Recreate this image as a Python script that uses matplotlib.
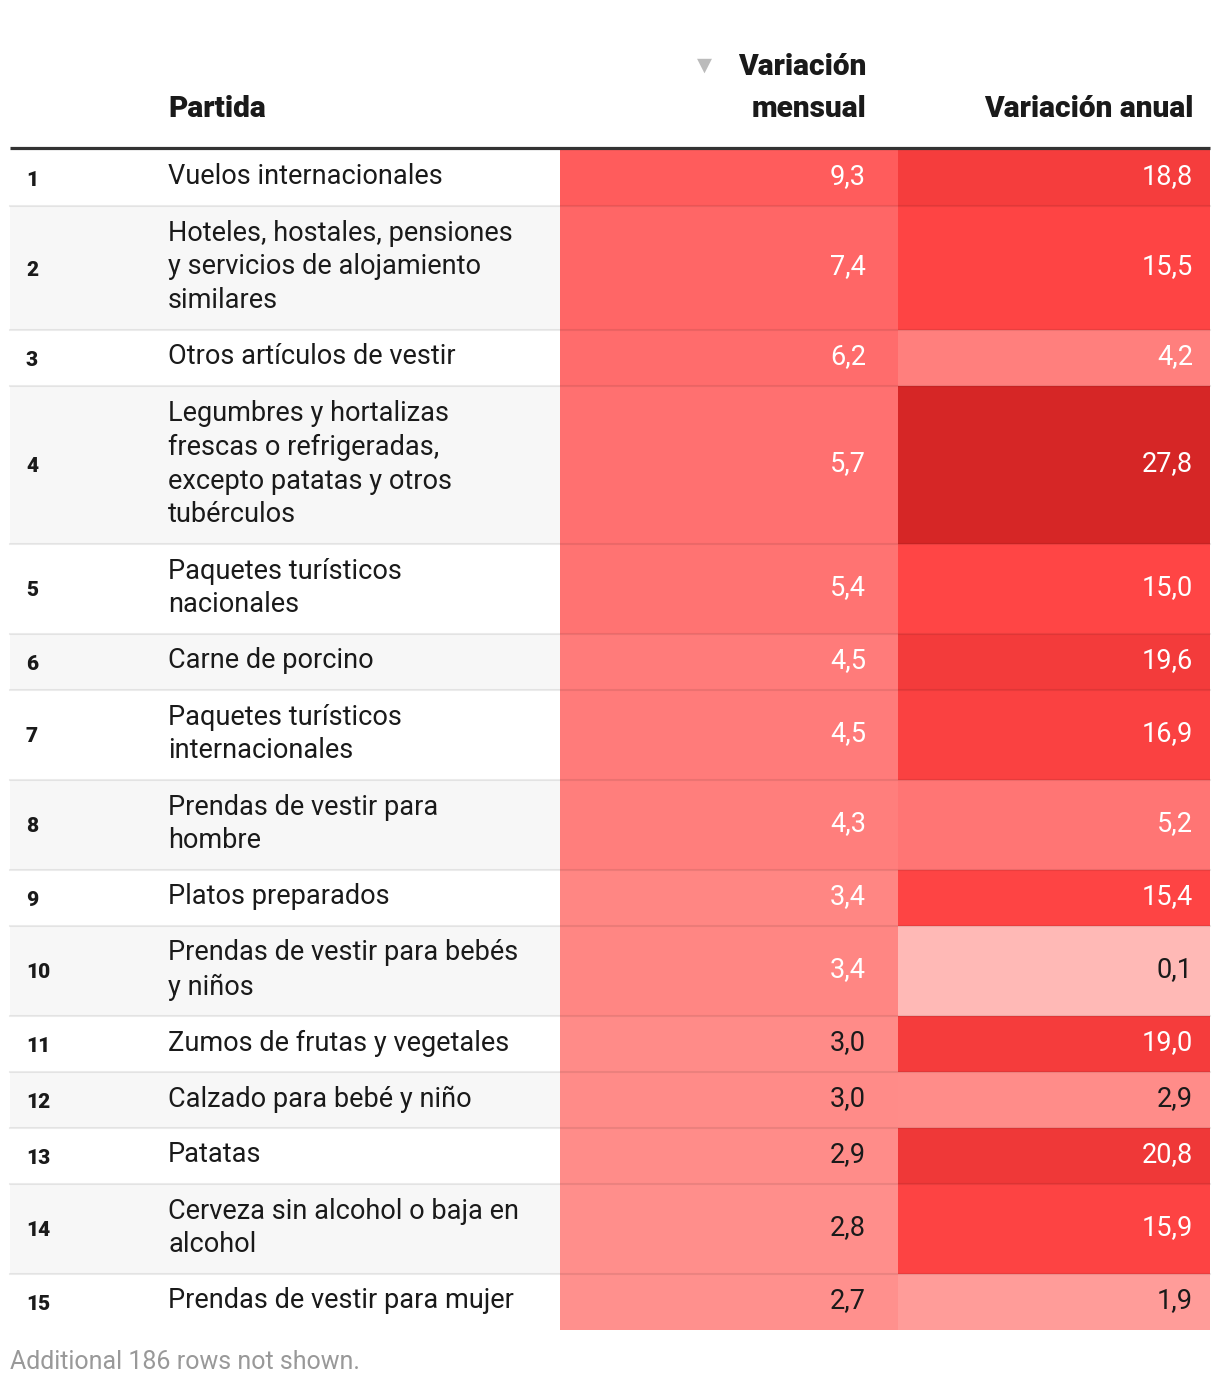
import numpy as np
import matplotlib.pyplot as plt
from matplotlib.colors import LinearSegmentedColormap, Normalize

# data
ranks = list(range(1, 16))
partidas = [
    "Vuelos internacionales",
    "Hoteles, hostales, pensiones\ny servicios de alojamiento\nsimilares",
    "Otros artículos de vestir",
    "Legumbres y hortalizas\nfrescas o refrigeradas,\nexcepto patatas y otros\ntubérculos",
    "Paquetes turísticos\nnacionales",
    "Carne de porcino",
    "Paquetes turísticos\ninternacionales",
    "Prendas de vestir para\nhombre",
    "Platos preparados",
    "Prendas de vestir para bebés\ny niños",
    "Zumos de frutas y vegetales",
    "Calzado para bebé y niño",
    "Patatas",
    "Cerveza sin alcohol o baja en\nalcohol",
    "Prendas de vestir para mujer",
]
var_mensual = [9.3, 7.4, 6.2, 5.7, 5.4, 4.5, 4.5, 4.3, 3.4, 3.4, 3.0, 3.0, 2.9, 2.8, 2.7]
var_anual = [18.8, 15.5, 4.2, 27.8, 15.0, 19.6, 16.9, 5.2, 15.4, 0.1, 19.0, 2.9, 20.8, 15.9, 1.9]

plt.rcParams['font.family'] = ['Roboto', 'DejaVu Sans']

# colour scale
anchors = [0, 3, 6, 10, 15, 20, 28]
colors = ["#FFB9B6", "#FF8A87", "#FF6D6D", "#FF5858", "#FF4545", "#F23A3A", "#D62626"]
vmax = anchors[-1]
cmap = LinearSegmentedColormap.from_list(
    "reds", [(a / vmax, c) for a, c in zip(anchors, colors)])
norm = Normalize(0, vmax)

fig = plt.figure(figsize=(12.2, 13.9), dpi=100)
ax = fig.add_axes([0, 0, 1, 1])
ax.set_xlim(0, 1220)
ax.set_ylim(1390, 0)
ax.axis('off')

left, right = 10, 1210
x_num, x_lab = 26, 168
m_left, m_right = 560, 898
a_left, a_right = 898, 1210
fs = 19.5
hfs = 21.5
ink = '#1a1a1a'

# header
ax.text(x_lab, 109, "Partida", fontsize=hfs, fontweight='heavy', va='center', color=ink)
ax.text(866, 67, "Variación", fontsize=hfs, fontweight='heavy', va='center', ha='right', color=ink)
ax.text(866, 109, "mensual", fontsize=hfs, fontweight='heavy', va='center', ha='right', color=ink)
ax.text(1193, 109, "Variación anual", fontsize=hfs, fontweight='heavy', va='center', ha='right', color=ink)
ax.text(704, 65, "▼", fontsize=14, va='center', ha='center', color='#bbbbbb', family='DejaVu Sans')
ax.plot([left, right], [148, 148], color='#333333', lw=2.3, solid_capstyle='butt', zorder=5)

top = 150
for i, (r, lab, m, a) in enumerate(zip(ranks, partidas, var_mensual, var_anual)):
    n = lab.count("\n") + 1
    h = 22 + 34 * n
    mid = top + h / 2
    if i % 2 == 1:
        ax.bar(left, h, bottom=top, width=m_left - left, align='edge', color='#F7F7F7', zorder=1)
    ax.bar(m_left, h, bottom=top, width=m_right - m_left, align='edge', color=cmap(norm(m)), zorder=1)
    ax.bar(a_left, h, bottom=top, width=a_right - a_left, align='edge', color=cmap(norm(a)), zorder=1)
    ax.text(x_num, mid + 2, str(r), fontsize=15, fontweight='black', va='center', color=ink)
    ax.text(x_lab, mid - 1, lab, fontsize=fs, va='center', color=ink, linespacing=1.33)
    for v, xr in ((m, 866), (a, 1193)):
        tc = 'white' if v >= 3.2 else ink
        ax.text(xr, mid - 1, f"{v:.1f}".replace(".", ","), fontsize=fs, va='center', ha='right', color=tc)
    top += h
    if i < len(ranks) - 1:
        ax.plot([left, right], [top, top], color='black', alpha=0.08, lw=1.5, zorder=3)

ax.text(10, 1362, "Additional 186 rows not shown.", fontsize=18, va='center', color='#999999')

fig.savefig("out.png", dpi=100)
